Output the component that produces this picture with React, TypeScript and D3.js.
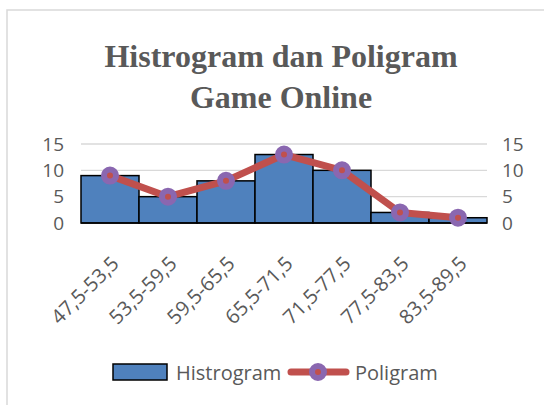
import { useEffect, useRef } from 'react';
import * as d3 from 'd3';

const classes = ['47,5-53,5', '53,5-59,5', '59,5-65,5', '65,5-71,5', '71,5-77,5', '77,5-83,5', '83,5-89,5'];
const histValues = [9, 5, 8, 13, 10, 2, 1];
const polyValues = [9, 5, 8, 13, 10, 2, 1];
const yTicks = [0, 5, 10, 15];

const W = 544;
const H = 405;
const TEXT = '#595959';
const SANS = '"Open Sans", sans-serif';

export default function App() {
  const ref = useRef<SVGSVGElement>(null);

  useEffect(() => {
    if (!ref.current) return;
    const svg = d3.select(ref.current);
    svg.selectAll('*').remove();

    // chart frame (only left / top edges are inside the picture)
    svg.append('rect').attr('x', 7).attr('y', 10).attr('width', 600).attr('height', 500)
      .attr('fill', '#fff').attr('stroke', '#d9d9d9').attr('stroke-width', 1.5);

    const x = d3.scaleBand().domain(classes).range([81, 487]).padding(0);
    const y = d3.scaleLinear().domain([0, 15]).range([223, 144]);

    // title
    const title = svg.append('text').attr('text-anchor', 'middle').attr('fill', TEXT)
      .attr('font-family', '"Liberation Serif", "Times New Roman", serif').attr('font-weight', 700).attr('font-size', 32);
    title.append('tspan').attr('x', 281).attr('y', 67).text('Histrogram dan Poligram');
    title.append('tspan').attr('x', 281).attr('y', 108).text('Game Online');

    // gridlines
    svg.append('g').selectAll('line').data(yTicks.filter((t) => t > 0)).enter().append('line')
      .attr('x1', 81).attr('x2', 487).attr('y1', (d) => y(d)).attr('y2', (d) => y(d))
      .attr('stroke', '#d9d9d9').attr('stroke-width', 1.3);

    // left / right tick labels
    const left = svg.append('g').attr('transform', 'translate(64,0)').call(d3.axisLeft(y).tickValues(yTicks).tickSize(0).tickPadding(0));
    const right = svg.append('g').attr('transform', 'translate(502,0)').call(d3.axisRight(y).tickValues(yTicks).tickSize(0).tickPadding(0));
    [left, right].forEach((a) => {
      a.select('.domain').remove();
      a.selectAll('text').attr('fill', TEXT).attr('font-family', SANS).attr('font-size', 19);
    });

    // histogram bars
    svg.append('g').selectAll('rect').data(histValues).enter().append('rect')
      .attr('x', (_, i) => x(classes[i])!)
      .attr('y', (d) => y(d))
      .attr('width', x.bandwidth())
      .attr('height', (d) => y(0) - y(d))
      .attr('fill', '#4f81bd').attr('stroke', '#000').attr('stroke-width', 1.5);

    svg.append('line').attr('x1', 81).attr('x2', 487).attr('y1', y(0)).attr('y2', y(0))
      .attr('stroke', '#000').attr('stroke-width', 1.5);

    // x labels, rotated
    svg.append('g').selectAll('text').data(classes).enter().append('text')
      .attr('transform', (d) => `translate(${x(d)! + x.bandwidth() / 2 + 10},265) rotate(-45)`)
      .attr('text-anchor', 'end').attr('fill', TEXT).attr('font-family', SANS).attr('font-size', 20)
      .text((d) => d);

    // poligram
    const line = d3.line<number>().x((_, i) => x(classes[i])! + x.bandwidth() / 2).y((d) => y(d));
    svg.append('path').datum(polyValues).attr('d', line).attr('fill', 'none')
      .attr('stroke', '#c0504d').attr('stroke-width', 7).attr('stroke-linejoin', 'round');
    svg.append('g').selectAll('circle').data(polyValues).enter().append('circle')
      .attr('cx', (_, i) => x(classes[i])! + x.bandwidth() / 2).attr('cy', (d) => y(d)).attr('r', 6)
      .attr('fill', '#c0504d').attr('stroke', '#8a67b0').attr('stroke-width', 6);

    // legend
    const lg = svg.append('g');
    lg.append('rect').attr('x', 113).attr('y', 364).attr('width', 54).attr('height', 16)
      .attr('fill', '#4f81bd').attr('stroke', '#000').attr('stroke-width', 1.5);
    lg.append('text').attr('x', 176).attr('y', 380).attr('fill', TEXT).attr('font-family', SANS).attr('font-size', 20).text('Histrogram');
    lg.append('line').attr('x1', 291).attr('x2', 346).attr('y1', 372).attr('y2', 372)
      .attr('stroke', '#c0504d').attr('stroke-width', 7).attr('stroke-linecap', 'round');
    lg.append('circle').attr('cx', 318).attr('cy', 372).attr('r', 6)
      .attr('fill', '#c0504d').attr('stroke', '#8a67b0').attr('stroke-width', 6);
    lg.append('text').attr('x', 355).attr('y', 380).attr('fill', TEXT).attr('font-family', SANS).attr('font-size', 20).text('Poligram');
  }, []);

  return <svg ref={ref} width={W} height={H} style={{ position: 'absolute', left: 0, top: 0 }} />;
}
